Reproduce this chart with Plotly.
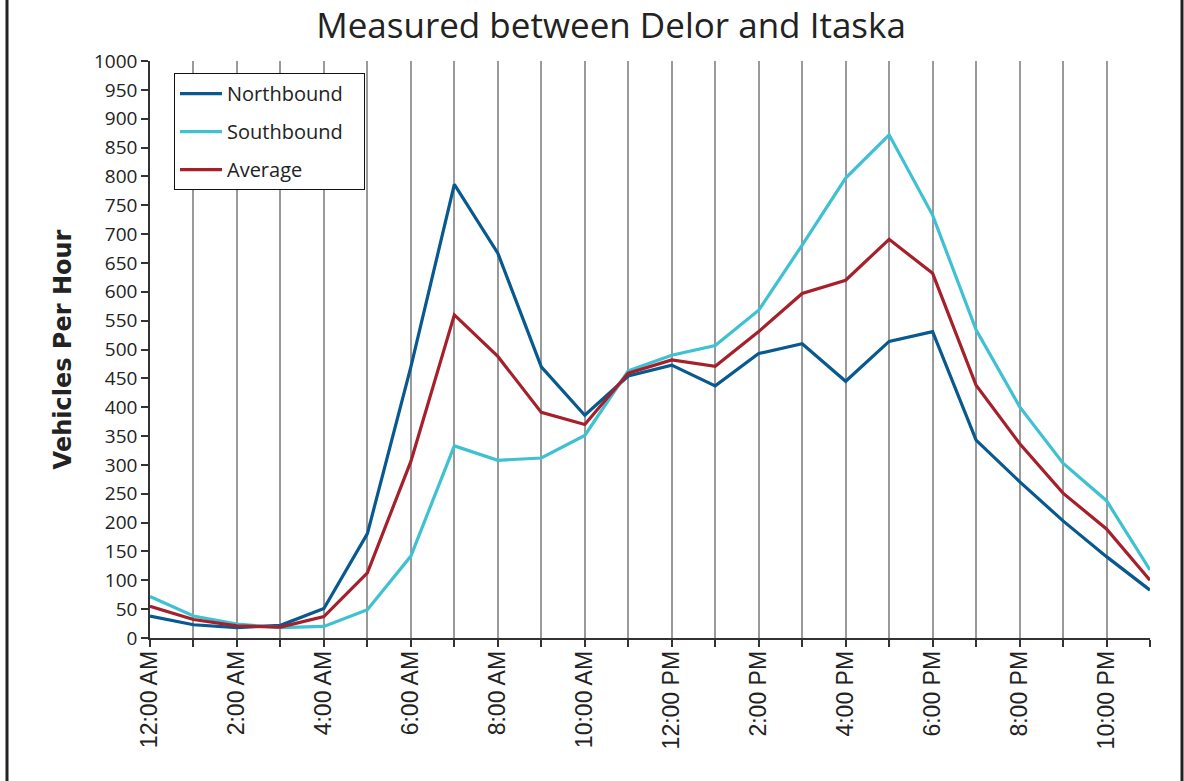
import plotly.graph_objects as go

hours = list(range(24))
tick_labels = ["12:00 AM", "", "2:00 AM", "", "4:00 AM", "", "6:00 AM", "", "8:00 AM", "",
               "10:00 AM", "", "12:00 PM", "", "2:00 PM", "", "4:00 PM", "", "6:00 PM", "",
               "8:00 PM", "", "10:00 PM", ""]

northbound = [38, 23, 18, 22, 51, 181, 470, 786, 667, 470, 386, 454, 473, 437, 493, 510,
              445, 514, 531, 343, 271, 203, 141, 83]
southbound = [72, 38, 24, 18, 20, 49, 142, 333, 308, 312, 351, 463, 490, 507, 568, 681,
              797, 872, 733, 534, 401, 303, 238, 118]
average = [55, 32, 21, 19, 37, 113, 306, 560, 488, 391, 370, 459, 482, 471, 531, 597,
           620, 691, 632, 438, 337, 251, 189, 100]

series = [("Northbound", northbound, "#07598F"),
          ("Southbound", southbound, "#3EC1D0"),
          ("Average", average, "#A5202A")]

fig = go.Figure()
for name, vals, color in series:
    fig.add_trace(go.Scatter(x=hours, y=vals, mode="lines", name=name + "\u00a0\u00a0\u00a0",
                             legendgroup=name,
                             line=dict(color=color, width=3.2)))

fig.update_layout(
    width=1184, height=781,
    margin=dict(l=150, r=34, t=61, b=143),
    paper_bgcolor="white", plot_bgcolor="white",
    font=dict(family="Open Sans", color="#222"),
    title=dict(text="Measured between Delor and Itaska", x=0.461, xref="paper",
               xanchor="center", y=0.967, yanchor="middle",
               font=dict(family="Open Sans", size=35, color="#222")),
    showlegend=True,
    legend=dict(x=0.024, y=0.979, xanchor="left", yanchor="top",
                bgcolor="white", bordercolor="#111", borderwidth=1,
                font=dict(family="Open Sans", size=20, color="#222"),
                itemwidth=42,
                traceorder="grouped", tracegroupgap=9),
    xaxis=dict(range=[0, 23], tickmode="array", tickvals=hours, ticktext=tick_labels,
               tickangle=-90, showgrid=True, gridcolor="#9a9a9a", gridwidth=1.5,
               showline=True, linecolor="#333", linewidth=1.5,
               ticks="outside", ticklen=7, tickcolor="#333", tickwidth=1.5,
               ticklabelstandoff=-5,
               tickfont=dict(family="Liberation Sans", size=23, color="#222"),
               zeroline=False, fixedrange=True),
    yaxis=dict(range=[0, 1000], dtick=50, tick0=0, showgrid=False,
               showline=True, linecolor="#333", linewidth=1.5,
               ticks="outside", ticklen=7, tickcolor="#333", tickwidth=1.5,
               tickfont=dict(family="Open Sans", size=19, color="#222"),
               title=dict(text="<b>Vehicles Per Hour</b>", standoff=16,
                          font=dict(family="DejaVu Sans", size=24, color="#222")),
               zeroline=False, fixedrange=True),
)

# outer frame lines (left and right edges of the figure)
for xp in [-0.143, 1.032]:
    fig.add_shape(type="line", xref="paper", yref="paper", x0=xp, x1=xp,
                  y0=-0.3, y1=1.2, line=dict(color="#222", width=3))

fig.write_html("out.html", config={"displayModeBar": False},
               post_script="document.body.style.margin='0';")
